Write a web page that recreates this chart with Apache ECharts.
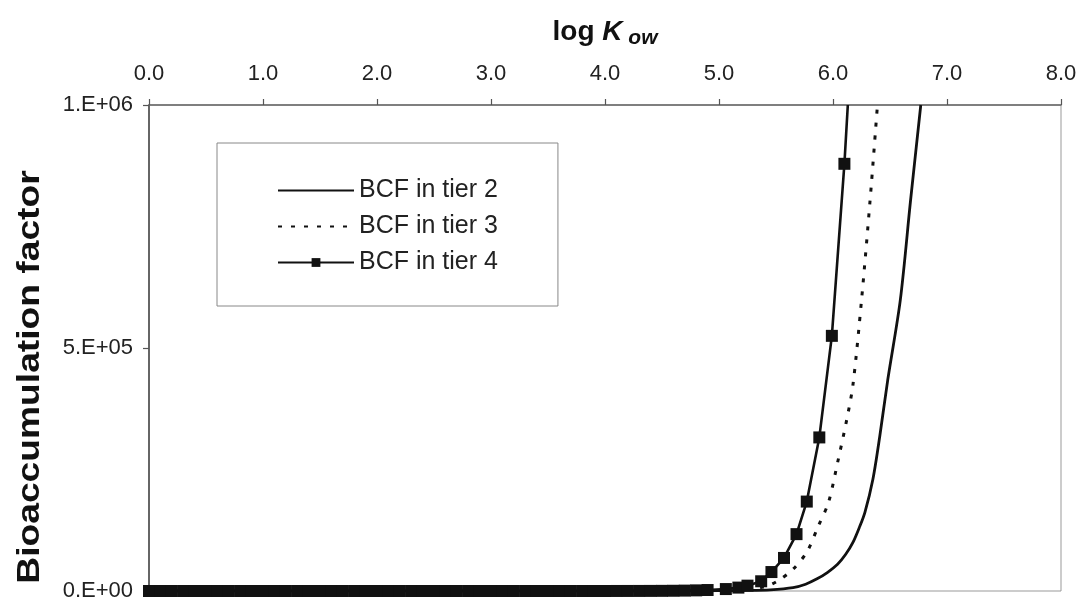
<!DOCTYPE html>
<html>
<head>
<meta charset="utf-8">
<script src="https://cdn.jsdelivr.net/npm/echarts@6/dist/echarts.min.js"></script>
<style>
  html, body { margin: 0; padding: 0; background: #fff; }
  #main { width: 1086px; height: 602px; }
</style>
</head>
<body>
<div id="main"></div>
<script>
// tick labels
const xTickLabels = ["0.0", "1.0", "2.0", "3.0", "4.0", "5.0", "6.0", "7.0", "8.0"];
const yTickLabels = ["0.E+00", "5.E+05", "1.E+06"];

const seriesNames = ["BCF in tier 2", "BCF in tier 3", "BCF in tier 4"];

// tier 2 (solid, no markers)
const tier2Kow = [0.0, 1.0, 2.0, 3.0, 4.0, 4.6, 5.0, 5.25, 5.45, 5.65, 5.76, 5.86, 5.95, 6.04, 6.11, 6.175, 6.23, 6.28, 6.35, 6.41, 6.48, 6.59, 6.68, 6.77];
const tier2Bcf = [0, 0, 0, 0, 50, 200, 600, 1100, 2500, 7000, 14000, 25000, 38000, 55000, 75000, 100000, 130000, 162000, 230000, 318000, 434000, 598000, 803000, 1000000];

// tier 3 (dotted)
const tier3Kow = [0.0, 1.0, 2.0, 3.0, 4.0, 4.6, 5.0, 5.2, 5.39, 5.51, 5.65, 5.77, 5.87, 5.96, 6.04, 6.12, 6.175, 6.25, 6.325, 6.39];
const tier3Bcf = [0, 0, 0, 0, 100, 400, 1200, 3000, 8000, 20000, 45000, 80000, 133000, 182000, 264000, 352000, 424000, 598000, 803000, 1000000];

// tier 4 (solid with square markers)
const tier4Kow = [0.0, 0.1, 0.2, 0.3, 0.4, 0.5, 0.6, 0.7, 0.8, 0.9,
  1.0, 1.1, 1.2, 1.3, 1.4, 1.5, 1.6, 1.7, 1.8, 1.9,
  2.0, 2.1, 2.2, 2.3, 2.4, 2.5, 2.6, 2.7, 2.8, 2.9,
  3.0, 3.1, 3.2, 3.3, 3.4, 3.5, 3.6, 3.7, 3.8, 3.9,
  4.0, 4.1, 4.2, 4.3, 4.4, 4.5, 4.6, 4.7, 4.8, 4.9,
  5.06, 5.17, 5.25, 5.37, 5.46, 5.57, 5.68, 5.77, 5.88, 5.99, 6.10];
const tier4Bcf = [0, 0, 0, 0, 0, 0, 0, 0, 0, 0,
  0, 0, 0, 0, 0, 0, 0, 0, 0, 0,
  0, 0, 0, 0, 0, 0, 0, 0, 0, 0,
  0, 0, 0, 0, 0, 0, 0, 0, 0, 0,
  50, 70, 90, 130, 200, 300, 500, 800, 1300, 2000,
  4000, 7000, 11000, 20000, 39000, 68000, 117000, 184000, 316000, 525000, 879000];
// where the tier 4 line leaves the top of the plot
const tier4Exit = [6.13, 1000000];

const ink = "#111";
const font = "Liberation Sans, Arial, Helvetica, sans-serif";

function pairs(xs, ys) {
  return xs.map((x, i) => [x, ys[i]]);
}

let chartDom = document.getElementById("main");
let myChart = echarts.init(chartDom);

let option = {
  animation: false,
  backgroundColor: "#fff",
  grid: {
    left: 149,
    right: 25,
    top: 105,
    bottom: 10,
    show: true,
    borderColor: "#999",
    borderWidth: 1,
    backgroundColor: "transparent",
  },
  legend: {
    data: seriesNames.map((n) => ({ name: n, itemStyle: { opacity: n === seriesNames[2] ? 1 : 0 } })),
    orient: "vertical",
    left: 217,
    top: 143,
    padding: [35, 60, 31, 60],
    itemGap: 11,
    itemWidth: 76,
    itemHeight: 11,
    borderColor: "#888",
    borderWidth: 1,
    textStyle: { fontFamily: font, fontSize: 25, color: "#222" },
  },
  xAxis: {
    type: "value",
    position: "top",
    min: 0,
    max: 8,
    interval: 1,
    name: "{a|log }{b|K}{c| ow}",
    nameLocation: "middle",
    nameGap: 56,
    nameTextStyle: {
      rich: {
        a: { fontFamily: font, fontWeight: "bold", fontSize: 28, color: "#111" },
        b: { fontFamily: font, fontWeight: "bold", fontStyle: "italic", fontSize: 28, color: "#111" },
        c: { fontFamily: font, fontWeight: "bold", fontStyle: "italic", fontSize: 21, color: "#111", padding: [12, 0, 0, 0] },
      },
    },
    axisLine: { show: true, onZero: false, lineStyle: { color: "#666", width: 1.5 } },
    axisTick: { show: true, length: 6, lineStyle: { color: "#555", width: 1.2 } },
    axisLabel: {
      margin: 20,
      fontFamily: font,
      fontSize: 22,
      color: "#222",
      formatter: (v) => xTickLabels[Math.round(v)],
    },
    splitLine: { show: false },
  },
  yAxis: {
    type: "value",
    min: 0,
    max: 1000000,
    interval: 500000,
    axisLine: { show: true, onZero: false, lineStyle: { color: "#444", width: 1.5 } },
    axisTick: { show: true, length: 6, lineStyle: { color: "#555", width: 1.2 } },
    axisLabel: {
      margin: 16,
      fontFamily: font,
      fontSize: 22,
      color: "#222",
      formatter: (v) => yTickLabels[Math.round(v / 500000)],
    },
    splitLine: { show: false },
  },
  graphic: [
    {
      type: "text",
      x: 30,
      y: 377,
      rotation: Math.PI / 2,
      scaleX: 1.2,
      style: {
        text: "Bioaccumulation factor",
        fontFamily: font,
        fontWeight: "bold",
        fontSize: 31,
        fill: "#111",
        textAlign: "center",
        textVerticalAlign: "middle",
      },
    },
  ],
  series: [
    {
      name: seriesNames[0],
      type: "line",
      data: pairs(tier2Kow, tier2Bcf),
      smooth: 0.3,
      showSymbol: false,
      symbol: "none",
      lineStyle: { color: ink, width: 2.8, type: "solid" },
      itemStyle: { color: ink },
      clip: true,
      z: 3,
    },
    {
      name: seriesNames[1],
      type: "line",
      data: pairs(tier3Kow, tier3Bcf),
      smooth: 0.3,
      showSymbol: false,
      symbol: "none",
      lineStyle: { color: ink, width: 3, type: [4, 9] },
      itemStyle: { color: ink },
      clip: true,
      z: 3,
    },
    {
      name: seriesNames[2],
      type: "line",
      data: pairs(tier4Kow, tier4Bcf).concat([{ value: tier4Exit, symbol: "none" }]),
      symbol: "rect",
      symbolSize: 12,
      showSymbol: true,
      lineStyle: { color: ink, width: 2.6 },
      itemStyle: { color: ink },
      clip: true,
      z: 4,
    },
  ],
};

option && myChart.setOption(option);
</script>
</body>
</html>
